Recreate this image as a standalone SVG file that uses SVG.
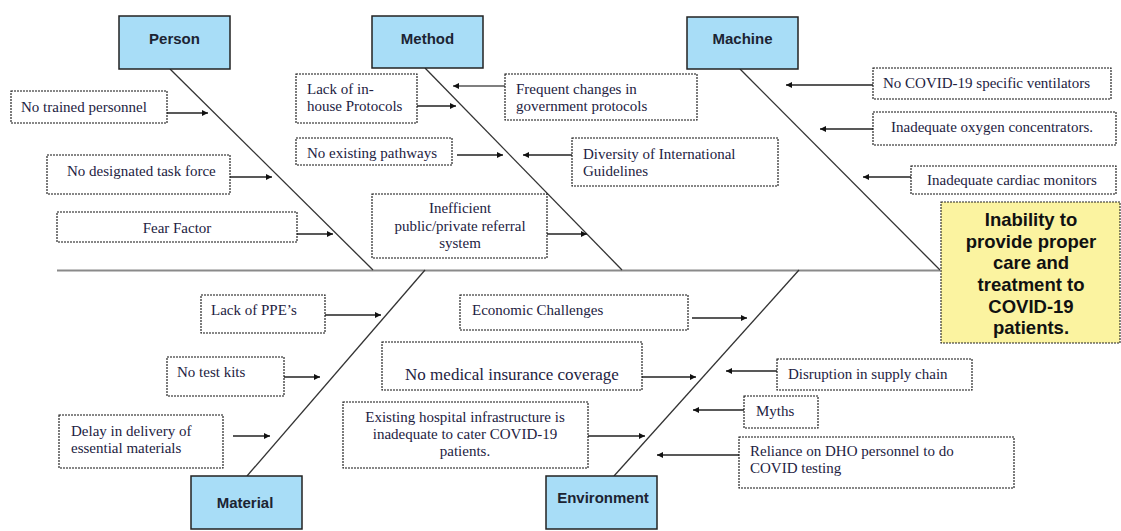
<svg xmlns="http://www.w3.org/2000/svg" width="1121" height="531" viewBox="0 0 1121 531">
<style>
.cat rect{fill:#A8DDF7;stroke:#222;stroke-width:1.5}
.cat text{font-family:"Liberation Sans",Arial,sans-serif;font-weight:bold;font-size:15px;fill:#1c2433;text-anchor:middle}
.cause rect{fill:#fff;stroke:#111;stroke-width:1.1;stroke-dasharray:2 1}
.cause text{font-family:"Liberation Serif","Times New Roman",serif;font-size:15px;fill:#23223f}
.c{text-anchor:middle}
.bone{stroke:#333;stroke-width:1.3;fill:none}
.spine{stroke:#8a8a8a;stroke-width:2;fill:none}
.arr{stroke:#222;stroke-width:1.5;fill:none;marker-end:url(#ah)}
#effect rect{fill:#FBF3A0;stroke:#222;stroke-width:1.1;stroke-dasharray:2 1}
#effect text{font-family:"Liberation Sans",Arial,sans-serif;font-weight:bold;font-size:18.5px;fill:#111;text-anchor:middle}
</style>
<defs>
<marker id="ah" viewBox="0 0 10 10" refX="10" refY="5" markerWidth="8" markerHeight="6" markerUnits="userSpaceOnUse" orient="auto">
<path d="M0,0 L10,5 L0,10 z" fill="#111"/>
</marker>
</defs>
<rect width="1121" height="531" fill="#fff"/>
<g id="connectors">
<line class="spine" x1="57" y1="270.5" x2="940" y2="270.5"/>
<line class="bone" x1="170" y1="69" x2="373" y2="270"/>
<line class="bone" x1="425" y1="68" x2="622" y2="270"/>
<line class="bone" x1="740" y1="69" x2="940" y2="270"/>
<line class="bone" x1="247" y1="476" x2="425" y2="270"/>
<line class="bone" x1="614" y1="476" x2="799" y2="270"/>
<line class="arr" x1="167" y1="113" x2="208" y2="113"/>
<line class="arr" x1="230" y1="177" x2="272" y2="177"/>
<line class="arr" x1="297" y1="234" x2="333" y2="234"/>
<line class="arr" x1="417" y1="106" x2="456" y2="106"/>
<line class="arr" x1="505" y1="86" x2="453" y2="86" style="stroke:#555"/>
<line class="arr" x1="457" y1="155" x2="503" y2="155"/>
<line class="arr" x1="572" y1="155" x2="523" y2="155"/>
<line class="arr" x1="547" y1="234" x2="587" y2="234"/>
<line class="arr" x1="873" y1="85" x2="786" y2="85"/>
<line class="arr" x1="873" y1="129" x2="820" y2="129"/>
<line class="arr" x1="911" y1="177" x2="863" y2="177"/>
<line class="arr" x1="325" y1="315" x2="381" y2="315"/>
<line class="arr" x1="284" y1="377" x2="320" y2="377"/>
<line class="arr" x1="233" y1="436" x2="270" y2="436"/>
<line class="arr" x1="692" y1="318" x2="747" y2="318"/>
<line class="arr" x1="642" y1="377" x2="696" y2="377"/>
<line class="arr" x1="588" y1="436" x2="645" y2="436"/>
<line class="arr" x1="777" y1="371" x2="726" y2="371"/>
<line class="arr" x1="744" y1="410" x2="693" y2="410"/>
<line class="arr" x1="739" y1="455" x2="657" y2="455"/>
</g>
<g id="person" class="cat"><rect x="119" y="16" width="111" height="53"/><text x="174.5" y="44">Person</text></g>
<g id="method" class="cat"><rect x="372" y="16" width="111" height="52"/><text x="427.5" y="44">Method</text></g>
<g id="machine" class="cat"><rect x="687" y="17" width="111" height="52"/><text x="742.5" y="44">Machine</text></g>
<g id="material" class="cat"><rect x="191" y="476" width="111" height="53"/><text x="245" y="508">Material</text></g>
<g id="environment" class="cat"><rect x="546" y="476" width="111" height="53"/><text x="603" y="503">Environment</text></g>
<g id="effect"><rect x="941" y="202" width="179" height="141"/>
<text x="1031" y="226">Inability to</text>
<text x="1031" y="248">provide proper</text>
<text x="1031" y="269">care and</text>
<text x="1031" y="291">treatment to</text>
<text x="1031" y="313">COVID-19</text>
<text x="1031" y="334">patients.</text>
</g>
<g id="c1" class="cause"><rect x="11" y="91" width="156" height="32"/><text x="21" y="112">No trained personnel</text></g>
<g id="c2" class="cause"><rect x="47" y="155" width="183" height="39"/><text x="67" y="176">No designated task force</text></g>
<g id="c3" class="cause"><rect x="57" y="212" width="240" height="30"/><text class="c" x="177" y="233">Fear Factor</text></g>
<g id="c4" class="cause"><rect x="296" y="74" width="121" height="49"/><text x="307" y="94">Lack of in-</text><text x="307" y="111">house Protocols</text></g>
<g id="c5" class="cause"><rect x="505" y="74" width="192" height="46"/><text x="516" y="94">Frequent changes in</text><text x="516" y="111">government protocols</text></g>
<g id="c6" class="cause"><rect x="296" y="138" width="156" height="27"/><text x="307" y="158">No existing pathways</text></g>
<g id="c7" class="cause"><rect x="572" y="138" width="206" height="48"/><text x="583" y="159">Diversity of International</text><text x="583" y="176">Guidelines</text></g>
<g id="c8" class="cause"><rect x="372" y="194" width="175" height="64"/><text class="c" x="460" y="213">Inefficient</text><text class="c" x="460" y="231">public/private referral</text><text class="c" x="460" y="248">system</text></g>
<g id="c9" class="cause"><rect x="873" y="68" width="238" height="31"/><text x="883" y="88">No COVID-19 specific ventilators</text></g>
<g id="c10" class="cause"><rect x="873" y="112" width="243" height="33"/><text x="891" y="132">Inadequate oxygen concentrators.</text></g>
<g id="c11" class="cause"><rect x="911" y="166" width="205" height="28"/><text x="927" y="185">Inadequate cardiac monitors</text></g>
<g id="c12" class="cause"><rect x="201" y="295" width="124" height="38"/><text x="211" y="315">Lack of PPE’s</text></g>
<g id="c13" class="cause"><rect x="167" y="357" width="117" height="39"/><text x="177" y="377">No test kits</text></g>
<g id="c14" class="cause"><rect x="59" y="415" width="164" height="53"/><text x="71" y="436">Delay in delivery of</text><text x="71" y="453">essential materials</text></g>
<g id="c15" class="cause"><rect x="460" y="295" width="228" height="35"/><text x="472" y="315">Economic Challenges</text></g>
<g id="c16" class="cause"><rect x="382" y="342" width="260" height="48"/><text class="c" x="512" y="380" style="font-size:17px">No medical insurance coverage</text></g>
<g id="c17" class="cause"><rect x="343" y="402" width="245" height="66"/><text class="c" x="465" y="422">Existing hospital infrastructure is</text><text class="c" x="465" y="439">inadequate to cater COVID-19</text><text class="c" x="465" y="456">patients.</text></g>
<g id="c18" class="cause"><rect x="777" y="359" width="195" height="31"/><text x="788" y="379">Disruption in supply chain</text></g>
<g id="c19" class="cause"><rect x="744" y="396" width="74" height="32"/><text x="756" y="416">Myths</text></g>
<g id="c20" class="cause"><rect x="739" y="437" width="275" height="51"/><text x="750" y="456">Reliance on DHO personnel to do</text><text x="750" y="473">COVID testing</text></g>
</svg>
